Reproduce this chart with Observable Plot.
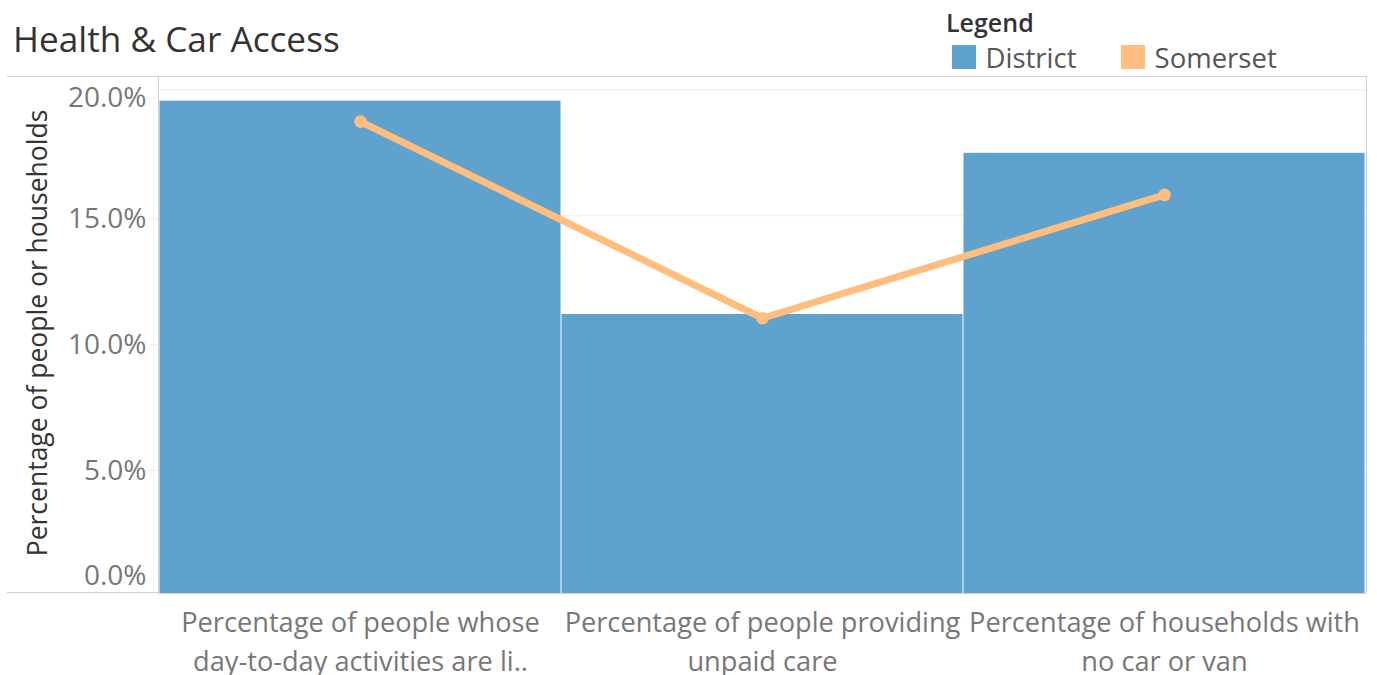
<!DOCTYPE html>
<html>
<head>
<meta charset="utf-8">
<script src="https://cdn.jsdelivr.net/npm/d3@7"></script>
<script src="https://cdn.jsdelivr.net/npm/@observablehq/plot@0.6"></script>
<style>
  html, body { margin: 0; padding: 0; background: #fff; }
  body { width: 1377px; height: 675px; position: relative; overflow: hidden; font-family: "Open Sans", sans-serif; }
  .abs { position: absolute; white-space: nowrap; line-height: 1; }
  #title { left: 13px; top: 20.5px; font-size: 35.2px; color: #333; }
  #legendTitle { left: 946px; top: 10px; font-size: 25px; font-weight: 600; color: #333; }
  .sw { position: absolute; width: 24px; height: 24px; top: 45px; }
  .lab { position: absolute; top: 44px; font-size: 27.5px; color: #555; line-height: 1; white-space: nowrap; }
  #pane { position: absolute; left: 7px; top: 75.5px; width: 151px; height: 517.5px; border-top: 1px solid #d0d0d0; border-bottom: 1px solid #d0d0d0; box-sizing: border-box; }
  #chart { position: absolute; left: 0; top: 0; }
</style>
</head>
<body>
<div id="pane"></div>
<div id="chart"></div>
<div id="title" class="abs"></div>
<div id="legendTitle" class="abs"></div>
<div id="legend"></div>
<script>
// ---- data ----
const chartTitle = "Health & Car Access";
const legendTitle = "Legend";
const yTitle = "Percentage of people or households";
const categories = [
  "Percentage of people whose day-to-day activities are li..",
  "Percentage of people providing unpaid care",
  "Percentage of households with no car or van"
];
const categoryTickLabels = [
  "Percentage of people whose\nday-to-day activities are li..",
  "Percentage of people providing\nunpaid care",
  "Percentage of households with\nno car or van"
];
const districtValues = [19.55, 11.08, 17.48];
const somersetValues = [18.74, 10.93, 15.83];
const yTickValues = [0, 5, 10, 15, 20];
const seriesNames = ["District", "Somerset"];
const seriesColors = ["#5fa2cd", "#ffbe7d"];

// ---- build table ----
const data = categories.map((c, i) => ({cat: c, district: districtValues[i], somerset: somersetValues[i]}));
const tickFmt = d => d.toFixed(1) + "%";
const catLabel = c => categoryTickLabels[categories.indexOf(c)];
const yAxisStyle = {tickSize: 10, tickPadding: 2, fill: "#777", fontSize: 28, tickFormat: tickFmt, label: null};

const chart = Plot.plot({
  width: 1377,
  height: 675,
  marginTop: 76,
  marginBottom: 82,
  marginLeft: 158,
  marginRight: 11,
  style: {fontFamily: "'Open Sans', sans-serif", background: "transparent", overflow: "visible"},
  x: {type: "band", domain: categories, padding: 0},
  y: {domain: [0, 20.53]},
  marks: [
    Plot.gridY(yTickValues, {stroke: "#ececec", strokeOpacity: 1}),
    Plot.barY(data, {x: "cat", y: "district", fill: seriesColors[0], insetLeft: 0.5, insetRight: 0.5}),
    Plot.line(data, {x: "cat", y: "somerset", stroke: seriesColors[1], strokeWidth: 7, strokeLinejoin: "round"}),
    Plot.dot(data, {x: "cat", y: "somerset", r: 6.3, fill: seriesColors[1]}),
    Plot.axisY(yTickValues.filter(d => d > 0 && d < 20), {...yAxisStyle, stroke: "#ececec", dy: 3}),
    Plot.axisY(yTickValues.filter(d => d === 20), {...yAxisStyle, stroke: "#ececec", dy: 8}),
    Plot.axisY(yTickValues.filter(d => d === 0), {...yAxisStyle, stroke: "none", dy: -17}),
    Plot.axisX({tickSize: 0, tickPadding: 11.4, fill: "#777", fontSize: 27.2, lineHeight: 1.415, tickFormat: catLabel, label: null}),
    Plot.text([yTitle], {frameAnchor: "left", textAnchor: "middle", rotate: -90, dx: -120, dy: -2, text: d => d, fill: "#333", fontSize: 26.5}),
    Plot.frame({stroke: "#d0d0d0"})
  ]
});
document.getElementById("chart").appendChild(chart);

document.getElementById("title").textContent = chartTitle;
document.getElementById("legendTitle").textContent = legendTitle;
const swatchLeft = [952, 1121];
const labelLeft = [985.5, 1154.6];
const leg = document.getElementById("legend");
leg.innerHTML = seriesNames.map((n, i) =>
  `<span class="sw" style="left:${swatchLeft[i]}px;background:${seriesColors[i]}"></span>` +
  `<span class="lab" style="left:${labelLeft[i]}px">${n}</span>`).join("");
</script>
</body>
</html>
